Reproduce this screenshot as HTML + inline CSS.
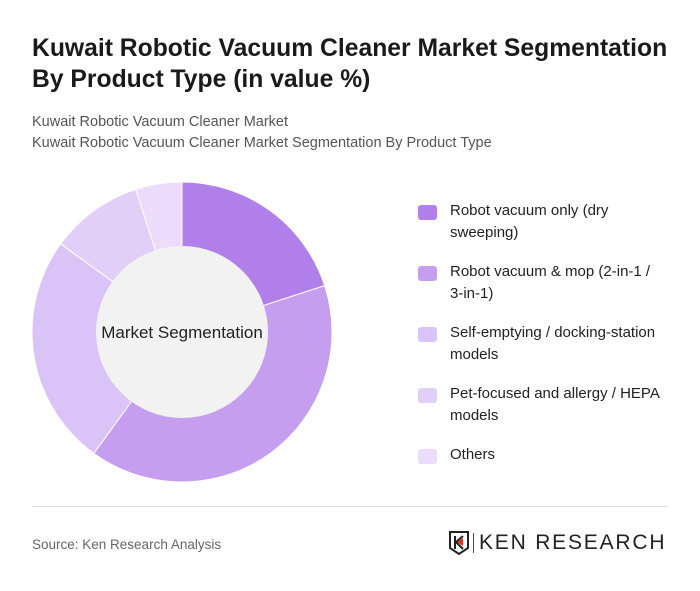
<!DOCTYPE html>
<html><head><meta charset="utf-8"><style>
body{margin:0;background:#fff;font-family:"Liberation Sans",sans-serif;}
#c{position:relative;width:700px;height:591px;overflow:hidden;background:#fff;}
.t{position:absolute;left:32px;top:33px;font-size:24.7px;font-weight:bold;color:#1a1a1a;line-height:31px;white-space:nowrap;}
.s{position:absolute;left:32px;font-size:14.5px;color:#555;}
.lg{position:absolute;left:418px;}
.sw{position:absolute;left:0;width:19px;height:15px;border-radius:3px;}
.lt{position:absolute;left:32px;font-size:15px;color:#222;line-height:22px;width:240px;}
</style></head><body>
<div id="c">
<div class="t">Kuwait Robotic Vacuum Cleaner Market Segmentation<br>By Product Type (in value %)</div>
<div class="s" style="top:114px">Kuwait Robotic Vacuum Cleaner Market</div>
<div class="s" style="top:135px">Kuwait Robotic Vacuum Cleaner Market Segmentation By Product Type</div>
<svg id="donut" width="700" height="591" style="position:absolute;left:0;top:0"></svg>
<div id="legend"></div>
<div style="position:absolute;left:32px;top:506px;width:636px;height:1px;background:#ddd"></div>
<div class="s" style="top:537px;font-size:13.5px;color:#666">Source: Ken Research Analysis</div>
<div style="position:absolute;left:448px;top:531px">
<svg width="22" height="24" style="position:absolute;left:0;top:0"><path d="M2 1h18v16l-9 6-9-6z" fill="none" stroke="#222" stroke-width="2"/><path d="M7 5v13M8 11l7-6M8 11l7 7" stroke="#222" stroke-width="2" fill="none"/><path d="M9 11l6-4v8z" fill="#d32"/></svg>
<div style="position:absolute;left:25px;top:2px;width:1px;height:20px;background:#444"></div>
<div style="position:absolute;left:31px;top:0px;font-size:21px;letter-spacing:1.8px;color:#222;white-space:nowrap;font-family:'Liberation Sans',sans-serif">KEN RESEARCH</div>
</div>
</div>
<script>
const categories=["Robot vacuum only (dry sweeping)","Robot vacuum & mop (2-in-1 / 3-in-1)","Self-emptying / docking-station models","Pet-focused and allergy / HEPA models","Others"];
const values=[20,40,25,10,5];
const colors=["#b17fe9","#c59ef0","#dac3f6","#e2cff8","#eadcfa"];
const labelLines=[["Robot vacuum only (dry","sweeping)"],["Robot vacuum & mop (2-in-1 /","3-in-1)"],["Self-emptying / docking-station","models"],["Pet-focused and allergy / HEPA","models"],["Others"]];
const NS="http://www.w3.org/2000/svg";
const svg=document.getElementById('donut');
const cx=182,cy=332,R=150,r=86;
const total=values.reduce((a,b)=>a+b,0);
let a0=0;
function pt(a,rad){return [cx+rad*Math.sin(a),cy-rad*Math.cos(a)];}
values.forEach((v,i)=>{
  const a1=a0+v/total*2*Math.PI;
  const large=(a1-a0)>Math.PI?1:0;
  const p0=pt(a0,R),p1=pt(a1,R);
  const p=document.createElementNS(NS,'path');
  p.setAttribute('d',`M${cx},${cy}L${p0[0]},${p0[1]}A${R},${R} 0 ${large} 1 ${p1[0]},${p1[1]}Z`);
  p.setAttribute('fill',colors[i]);
  p.setAttribute('stroke','#fff');p.setAttribute('stroke-width','1');
  
  
  svg.appendChild(p);
  a0=a1;
});
const hole=document.createElementNS(NS,'circle');
hole.setAttribute('cx',cx);hole.setAttribute('cy',cy);hole.setAttribute('r',r);hole.setAttribute('fill','#f2f2f2');


svg.appendChild(hole);
const ct=document.createElementNS(NS,'text');
ct.setAttribute('x',cx);ct.setAttribute('y',cy+6);ct.setAttribute('text-anchor','middle');
ct.setAttribute('font-size','17');ct.setAttribute('fill','#222');ct.setAttribute('font-family','Liberation Sans, sans-serif');
ct.textContent='Market Segmentation';


svg.appendChild(ct);
const lg=document.getElementById('legend');
categories.forEach((c,i)=>{
  const e=document.createElement('div');e.className='lg';e.style.top=(205+i*61)+'px';
  
  
  const s=document.createElement('div');s.className='sw';s.style.top='0px';s.style.background=colors[i];
  
  
  const t=document.createElement('div');t.className='lt';t.style.top='-5px';
  t.innerHTML=labelLines[i].join('<br>');
  
  
  e.appendChild(s);e.appendChild(t);lg.appendChild(e);
});
</script>
</body></html>
